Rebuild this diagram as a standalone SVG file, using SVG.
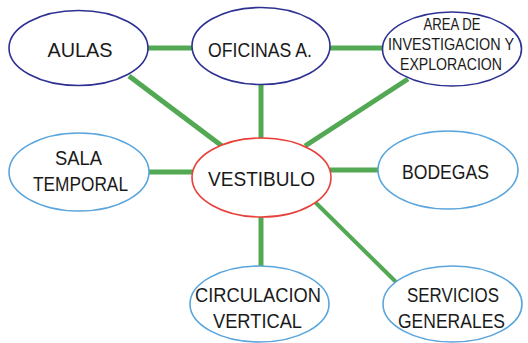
<svg xmlns="http://www.w3.org/2000/svg" width="528" height="343" viewBox="0 0 528 343">
<style>
.n{fill:#fff;stroke-width:1.6}
.top{stroke:#2e3192}
.blue{stroke:#5aa5dc}
.red{stroke:#e8403a}
.c{stroke:#52a853;stroke-width:5;fill:none}
text{font-family:"Liberation Sans",Arial,sans-serif;font-size:20px;fill:#1a1a1a;text-anchor:middle}
.s{font-size:17px}
</style>
<rect width="528" height="343" fill="#fff"/>
<g id="connectors">
<line class="c" x1="148" y1="48" x2="193" y2="48"/>
<line class="c" x1="330" y1="48" x2="383" y2="48"/>
<line class="c" x1="129" y1="76" x2="222" y2="146"/>
<line class="c" x1="261" y1="84" x2="261" y2="139"/>
<line class="c" x1="408" y1="79" x2="305" y2="146"/>
<line class="c" x1="149" y1="172" x2="193" y2="172"/>
<line class="c" x1="330" y1="170" x2="379" y2="170"/>
<line class="c" x1="261" y1="216" x2="261" y2="267"/>
<line class="c" x1="315" y1="202" x2="397" y2="283" style="stroke-width:4"/>
</g>
<g id="aulas">
<ellipse class="n top" cx="78.5" cy="48" rx="69.5" ry="37.5"/>
<text x="80" y="57" textLength="65" lengthAdjust="spacingAndGlyphs">AULAS</text>
</g>
<g id="oficinas">
<ellipse class="n top" cx="261" cy="46" rx="69" ry="38.5"/>
<text x="260" y="57" textLength="104" lengthAdjust="spacingAndGlyphs">OFICINAS A.</text>
</g>
<g id="area">
<ellipse class="n top" cx="452" cy="49" rx="69.5" ry="37"/>
<text class="s" x="452" y="30" textLength="57" lengthAdjust="spacingAndGlyphs">AREA DE</text>
<text class="s" x="451" y="50" textLength="126" lengthAdjust="spacingAndGlyphs">INVESTIGACION Y</text>
<text class="s" x="451" y="70" textLength="102" lengthAdjust="spacingAndGlyphs">EXPLORACION</text>
</g>
<g id="sala">
<ellipse class="n blue" cx="79" cy="172" rx="70" ry="39"/>
<text x="78.5" y="165" textLength="47" lengthAdjust="spacingAndGlyphs">SALA</text>
<text x="80.5" y="191" textLength="95" lengthAdjust="spacingAndGlyphs">TEMPORAL</text>
</g>
<g id="vestibulo">
<ellipse class="n red" cx="261.5" cy="177.5" rx="69.5" ry="39.5"/>
<text x="261.5" y="186" textLength="107" lengthAdjust="spacingAndGlyphs">VESTIBULO</text>
</g>
<g id="bodegas">
<ellipse class="n blue" cx="448" cy="170" rx="70" ry="39"/>
<text x="445.5" y="179" textLength="87" lengthAdjust="spacingAndGlyphs">BODEGAS</text>
</g>
<g id="circulacion">
<ellipse class="n blue" cx="259.5" cy="304" rx="69.5" ry="38"/>
<text x="258" y="302" textLength="126" lengthAdjust="spacingAndGlyphs">CIRCULACION</text>
<text x="257.5" y="328" textLength="89" lengthAdjust="spacingAndGlyphs">VERTICAL</text>
</g>
<g id="servicios">
<ellipse class="n blue" cx="452.5" cy="304" rx="69.5" ry="38"/>
<text x="453" y="302" textLength="92" lengthAdjust="spacingAndGlyphs">SERVICIOS</text>
<text x="451.5" y="328" textLength="107" lengthAdjust="spacingAndGlyphs">GENERALES</text>
</g>
</svg>
